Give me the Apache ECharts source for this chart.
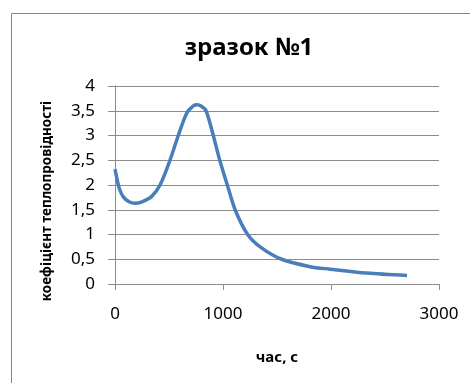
<!DOCTYPE html>
<html>
<head>
<meta charset="utf-8">
<script src="https://cdn.jsdelivr.net/npm/echarts@6/dist/echarts.min.js"></script>
<style>
  html, body { margin: 0; padding: 0; background: #fff; }
  #chart-container { width: 470px; height: 383px; }
</style>
</head>
<body>
<div id="chart-container"></div>
<script>
var myChart = echarts.init(document.getElementById('chart-container'));

// time, s
const times = [0, 19, 40, 77, 130, 185, 250, 340, 417, 509, 586, 664, 725, 762, 800, 843, 910, 970, 1040, 1112, 1228, 1350, 1543, 1806, 1990, 2330, 2704];
// thermal conductivity coefficient
const values = [2.32, 2.12, 1.93, 1.76, 1.66, 1.63, 1.66, 1.77, 2.0, 2.5, 3.0, 3.45, 3.6, 3.62, 3.59, 3.5, 3.0, 2.5, 2.0, 1.5, 1.0, 0.74, 0.5, 0.35, 0.3, 0.22, 0.17];

const titleText = 'зразок №1';
const xName = 'час, с';
const yName = 'коефіцієнт теплопровідності';

const gridColor = '#8c8c8c';
const fontFam = '"Noto Sans", sans-serif';

const option = {
    animation: false,
    backgroundColor: '#fff',
    title: {
        text: titleText,
        left: 244,
        top: 31,
        textAlign: 'center',
        textStyle: { fontFamily: fontFam, fontSize: 24, fontWeight: 'bold', color: '#000' }
    },
    grid: { left: 115, right: 31, top: 86, bottom: 99 },
    xAxis: {
        type: 'value',
        min: 0, max: 3000, interval: 1000,
        name: xName,
        nameLocation: 'middle',
        nameGap: 66,
        nameTextStyle: { fontFamily: fontFam, fontSize: 15, fontWeight: 'bold', color: '#000' },
        axisLine: { show: true, lineStyle: { color: gridColor, width: 1 } },
        axisTick: { show: true, length: 6, lineStyle: { color: gridColor } },
        axisLabel: {
            margin: 22, fontFamily: fontFam, fontSize: 17, color: '#000',
            formatter: function (v) { return String(v); }
        },
        splitLine: { show: false }
    },
    yAxis: {
        type: 'value',
        min: 0, max: 4, interval: 0.5,
        axisLine: { show: true, lineStyle: { color: gridColor, width: 1 } },
        axisTick: { show: true, length: 7, lineStyle: { color: gridColor } },
        axisLabel: {
            margin: 20, fontFamily: fontFam, fontSize: 17, color: '#000',
            formatter: function (v) { return String(v).replace('.', ','); }
        },
        splitLine: { show: true, lineStyle: { color: gridColor, width: 1 } }
    },
    graphic: [
        {
            type: 'rect',
            shape: { x: 11.5, y: 13.5, width: 480, height: 400 },
            style: { fill: 'none', stroke: '#868686', lineWidth: 1 },
            z: -1
        },
        {
            type: 'text',
            x: 47, y: 201,
            rotation: Math.PI / 2,
            style: {
                text: yName,
                fontFamily: fontFam, fontSize: 13.5, fontWeight: 'bold', fill: '#000',
                align: 'center', verticalAlign: 'middle'
            }
        }
    ],
    series: [{
        type: 'line',
        data: times.map((t, i) => [t, values[i]]),
        smooth: 0.3,
        showSymbol: false,
        lineStyle: { color: '#4a7ebb', width: 3.5 }
    }]
};

myChart.setOption(option);

window.addEventListener('resize', function () {
    myChart.resize();
});
</script>
</body>
</html>
